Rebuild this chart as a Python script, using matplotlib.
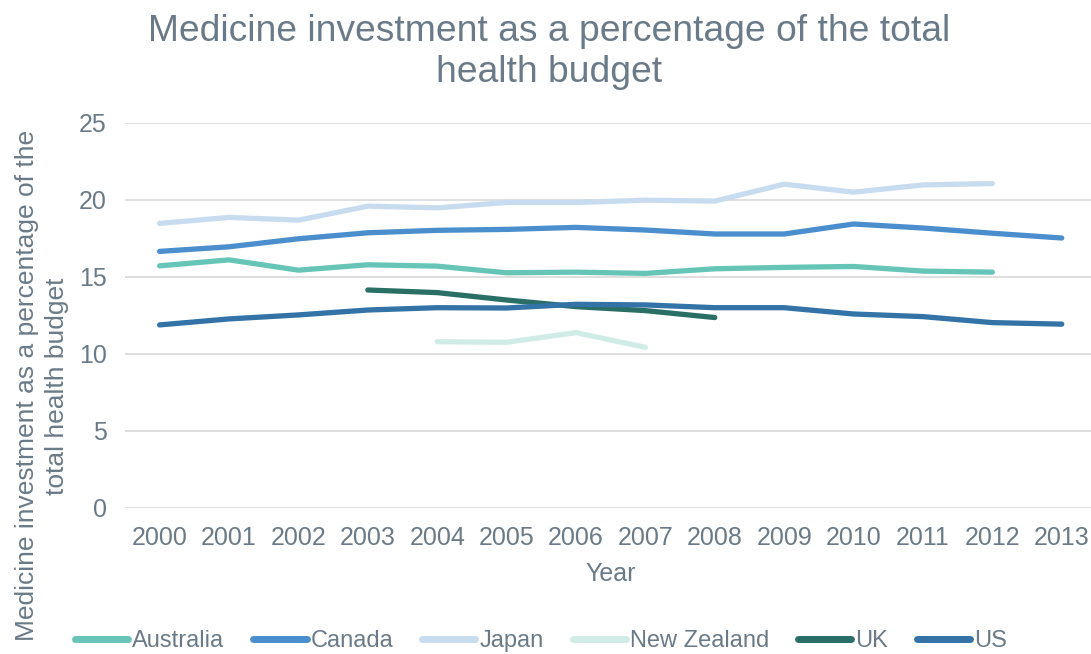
import matplotlib
matplotlib.use('Agg')
import matplotlib.pyplot as plt
import numpy as np

plt.rcParams['font.family'] = ['Liberation Sans', 'DejaVu Sans']

years = ['2000', '2001', '2002', '2003', '2004', '2005', '2006',
         '2007', '2008', '2009', '2010', '2011', '2012', '2013']

# values (None = no data)
australia = [15.71, 16.10, 15.43, 15.78, 15.69, 15.26, 15.30,
             15.22, 15.52, 15.61, 15.67, 15.37, 15.30, None]
canada = [16.65, 16.95, 17.47, 17.86, 18.02, 18.08, 18.21,
          18.04, 17.78, 17.78, 18.43, 18.17, 17.83, 17.52]
japan = [18.47, 18.86, 18.68, 19.59, 19.48, 19.83, 19.83,
         19.98, 19.92, 21.02, 20.50, 20.97, 21.06, None]
new_zealand = [None, None, None, None, 10.78, 10.74, 11.37,
               10.41, None, None, None, None, None, None]
uk = [None, None, None, 14.14, 13.97, 13.49, 13.06,
      12.80, 12.35, None, None, None, None, None]
us = [11.87, 12.26, 12.52, 12.84, 12.99, 12.97, 13.21,
      13.17, 12.99, 12.99, 12.58, 12.41, 12.02, 11.92]

series = [
    ('Australia', australia, '#67c5b7'),
    ('Canada', canada, '#4a8ecd'),
    ('Japan', japan, '#c8dcf0'),
    ('New Zealand', new_zealand, '#d0ece7'),
    ('UK', uk, '#2a6f66'),
    ('US', us, '#3373a8'),
]

text_col = '#6b7a88'
fs = 18

fig = plt.figure(figsize=(10.91, 6.54), dpi=100)
ax = fig.add_axes([0.1145, 0.224, 0.8905, 0.588])

x = np.arange(len(years))
for name, vals, col in series:
    y = np.array([np.nan if v is None else v for v in vals], dtype=float)
    ax.plot(x, y, color=col, lw=3.8, label=name, solid_capstyle='round')

ax.set_xlim(-0.5, 13.5)
ax.set_ylim(0, 25)
ax.set_yticks([0, 5, 10, 15, 20, 25])
ax.set_xticks(x)
ax.set_xticklabels(years)
ax.grid(axis='y', color='#d9d9d9', lw=1.2)
ax.set_axisbelow(True)
for s in ax.spines.values():
    s.set_visible(False)
ax.tick_params(length=0, labelsize=fs, colors=text_col)
ax.tick_params(axis='x', pad=13)
ax.tick_params(axis='y', pad=13)

ax.set_xlabel('Year', fontsize=fs, color=text_col, labelpad=9)
fig.text(0.0385, 0.41, 'Medicine investment as a percentage of the\ntotal health budget',
         rotation=90, ha='center', va='center', fontsize=19, color=text_col,
         multialignment='center', linespacing=1.3)

fig.suptitle('Medicine investment as a percentage of the total\nhealth budget',
             x=0.503, y=0.979, fontsize=26.8, color=text_col, linespacing=1.22)

leg = fig.legend(loc='lower center', bbox_to_anchor=(0.496, -0.022), ncol=6,
                 frameon=False, fontsize=17, handlelength=2.25,
                 handletextpad=0.17, columnspacing=1.23, labelcolor=text_col,
                 borderaxespad=0.3)
for h in leg.get_lines():
    h.set_linewidth(5)

fig.savefig('out.png', dpi=100)
